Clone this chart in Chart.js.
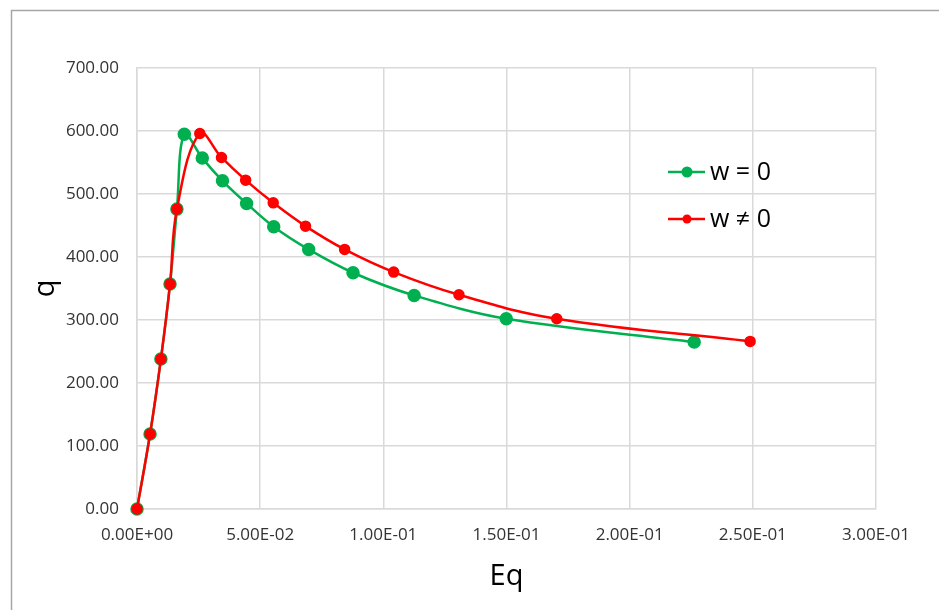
<!DOCTYPE html>
<html>
<head>
<meta charset="utf-8">
<script src="https://cdn.jsdelivr.net/npm/chart.js@4.4.1/dist/chart.umd.min.js"></script>
<style>
  html, body { margin: 0; padding: 0; background: #fff; }
  canvas { display: block; }
</style>
</head>
<body>
<canvas id="chart" width="939" height="610"></canvas>
<script>
// series
const eqW0 = [0, 0.0053, 0.0097, 0.0134, 0.0162, 0.0192, 0.0265, 0.0347, 0.0445, 0.0555, 0.0697, 0.0877, 0.1125, 0.1499, 0.2262]
const qW0 = [0, 119, 238, 357, 476, 595, 557, 521, 485, 448, 412, 375, 339, 302, 265]

const eqW1 = [0, 0.0053, 0.0097, 0.0134, 0.0162, 0.0255, 0.0343, 0.0441, 0.0553, 0.0684, 0.0843, 0.1042, 0.1307, 0.1704, 0.2489]
const qW1 = [0, 119, 238, 357, 476, 596, 558, 522, 486, 449, 412, 376, 340, 302, 266]

const seriesNames = ['w = 0', 'w \u2260 0']
const seriesColors = ['#00b050', '#ff0000']

const FONT = "'Open Sans', 'Liberation Sans', sans-serif"

function toPoints(xs, ys) {
  return xs.map((x, i) => ({ x: x, y: ys[i] }))
}

// 5.00E-02 style labels
function sciLabel(v) {
  const parts = Number(v).toExponential(2).split('e')
  let exp = parseInt(parts[1], 10)
  let mant = parts[0]
  if (Number(v) === 0) { mant = '0.00'; exp = 0 }
  const sign = exp < 0 ? '-' : '+'
  const e = String(Math.abs(exp)).padStart(2, '0')
  return mant + 'E' + sign + e
}

// white page + outer frame
const framePlugin = {
  id: 'frame',
  beforeDraw(chart) {
    const c = chart.ctx
    c.save()
    c.fillStyle = '#fff'
    c.fillRect(0, 0, chart.width, chart.height)
    c.strokeStyle = '#a6a6a6'
    c.lineWidth = 1.5
    c.beginPath()
    c.moveTo(11.5, chart.height + 2)
    c.lineTo(11.5, 10.5)
    c.lineTo(chart.width + 2, 10.5)
    c.stroke()
    c.restore()
  }
}

// legend drawn inside the plot, like the original
const legendPlugin = {
  id: 'innerLegend',
  afterDraw(chart) {
    const c = chart.ctx
    const rows = [172, 219]
    c.save()
    chart.data.datasets.forEach((ds) => {
      const y = rows[ds.legendRow]
      c.strokeStyle = ds.borderColor
      c.lineWidth = 2.5
      c.beginPath()
      c.moveTo(668, y)
      c.lineTo(705, y)
      c.stroke()
      c.fillStyle = ds.backgroundColor
      c.beginPath()
      c.arc(687, y, ds.pointRadius, 0, Math.PI * 2)
      c.fill()
      c.fillStyle = '#000'
      c.font = '25px ' + FONT
      c.textBaseline = 'middle'
      c.textAlign = 'left'
      c.fillText(ds.label, 710, y + 1)
    })
    c.restore()
  }
}

const ctx = document.getElementById('chart')

new Chart(ctx, {
  type: 'scatter',
  data: {
    datasets: [
      {
        label: seriesNames[1],
        data: toPoints(eqW1, qW1),
        borderColor: seriesColors[1],
        backgroundColor: seriesColors[1],
        pointRadius: 4.5,
        borderWidth: 2.5,
        showLine: true,
        tension: 0.4,
        clip: false,
        legendRow: 1
      },
      {
        label: seriesNames[0],
        data: toPoints(eqW0, qW0),
        borderColor: seriesColors[0],
        backgroundColor: seriesColors[0],
        pointRadius: 5.5,
        borderWidth: 2.5,
        showLine: true,
        tension: 0.35,
        clip: false,
        legendRow: 0
      }
    ]
  },
  options: {
    responsive: false,
    animation: false,
    events: [],
    layout: {
      padding: { left: 0, top: 68, right: 63, bottom: 0 }
    },
    plugins: {
      legend: { display: false },
      tooltip: { enabled: false }
    },
    scales: {
      x: {
        type: 'linear',
        min: 0,
        max: 0.3,
        ticks: {
          stepSize: 0.05,
          padding: 16,
          color: '#333',
          font: { family: FONT, size: 17 },
          maxRotation: 0,
          callback: (v) => sciLabel(v)
        },
        grid: { color: '#d9d9d9', lineWidth: 1.5, drawTicks: false },
        border: { color: '#d9d9d9', width: 1.5 },
        title: {
          display: true,
          text: 'Eq',
          color: '#000',
          font: { family: FONT, size: 29, lineHeight: 1.2 },
          padding: { top: 0, bottom: 16 }
        },
        afterFit(scale) { scale.height = 610 - 509 }
      },
      y: {
        type: 'linear',
        min: 0,
        max: 700,
        ticks: {
          stepSize: 100,
          padding: 18,
          color: '#333',
          font: { family: FONT, size: 17 },
          callback: (v) => Number(v).toFixed(2)
        },
        grid: { color: '#d9d9d9', lineWidth: 1.5, drawTicks: false },
        border: { color: '#d9d9d9', width: 1.5 },
        title: {
          display: true,
          text: 'q',
          color: '#000',
          font: { family: FONT, size: 29, lineHeight: 1.2 },
          padding: { top: 28, bottom: 0 }
        },
        afterFit(scale) { scale.width = 137 }
      }
    }
  },
  plugins: [framePlugin, legendPlugin]
})
</script>
</body>
</html>
